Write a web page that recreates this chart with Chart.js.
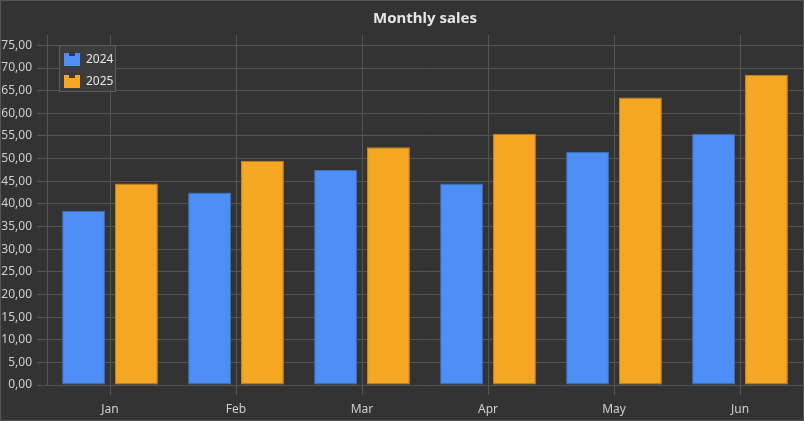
<!DOCTYPE html>
<html>
<head>
<meta charset="utf-8">
<script src="https://cdn.jsdelivr.net/npm/chart.js@4/dist/chart.umd.min.js"></script>
<style>
  body { margin: 0; background: #333333; }
  #wrap { width: 804px; height: 421px; box-sizing: border-box; border: 1px solid #565656; background: #333333; }
  canvas { display: block; }
</style>
</head>
<body>
<div id="wrap"><canvas id="salesChart" width="802" height="419"></canvas></div>
<script>
var months = ["Jan", "Feb", "Mar", "Apr", "May", "Jun"];
var sales2024 = [38.5, 42.5, 47.5, 44.5, 51.5, 55.5];
var sales2025 = [44.5, 49.5, 52.5, 55.5, 63.5, 68.5];
var seriesLabels = ["2024", "2025"];
var chartTitle = "Monthly sales";

var gridColor = "#555555";
var textColor = "#cfcfcf";
var fontFamily = "'Noto Sans', 'Open Sans', sans-serif";

// title centred over the plot area + legend box inside the plot, top-left
var overlays = {
  id: "overlays",
  afterDraw: function (chart) {
    var c = chart.ctx;
    var area = chart.chartArea;
    c.save();
    c.font = "bold 15px " + fontFamily;
    c.fillStyle = "#e6e6e6";
    c.textAlign = "center";
    c.textBaseline = "middle";
    c.fillText(chartTitle, (area.left + area.right) / 2, 17.5);

    var x = area.left + 12, y = area.top + 10;
    var w = 57, h = 47;
    c.fillStyle = "#3c3c3c";
    c.fillRect(x, y, w, h);
    c.strokeStyle = "#5c5c5c";
    c.lineWidth = 1;
    c.strokeRect(x + 0.5, y + 0.5, w - 1, h - 1);
    c.font = "12px " + fontFamily;
    c.textAlign = "left";
    chart.data.datasets.forEach(function (ds, i) {
      var iy = y + 8 + i * 22;
      c.fillStyle = ds.backgroundColor;
      c.fillRect(x + 5, iy, 16, 13);
      c.fillStyle = "#3c3c3c";
      c.fillRect(x + 10, iy, 6, 3);
      c.fillStyle = "#e6e6e6";
      c.fillText(ds.label, x + 27, iy + 6.5);
    });
    c.restore();
  }
};

var ctx = document.getElementById("salesChart").getContext("2d");

var myChart = new Chart(ctx, {
  type: "bar",
  data: {
    labels: months,
    datasets: [
      {
        label: seriesLabels[0],
        data: sales2024,
        backgroundColor: "#4d8ef7",
        borderColor: "#3b6fc2",
        borderWidth: 1,
        borderSkipped: false,
      },
      {
        label: seriesLabels[1],
        data: sales2025,
        backgroundColor: "#f5a623",
        borderColor: "#c4861f",
        borderWidth: 1,
        borderSkipped: false,
      },
    ],
  },
  options: {
    responsive: false,
    animation: false,
    categoryPercentage: 0.84,
    barPercentage: 0.81,
    layout: { padding: { left: 0, right: 0, top: 34, bottom: 0 } },
    scales: {
      x: {
        offset: true,
        grid: {
          offset: false,
          color: gridColor,
          tickLength: 10,
        },
        border: { color: gridColor },
        ticks: {
          color: textColor,
          font: { family: fontFamily, size: 12 },
          padding: 7,
          maxRotation: 0,
        },
        afterFit: function (scale) { scale.height = 35; },
      },
      y: {
        min: 0,
        max: 77.3,
        ticks: {
          color: textColor,
          font: { family: fontFamily, size: 12 },
          padding: 5,
          callback: function (v) { return v.toFixed(2).replace(".", ","); },
        },
        afterBuildTicks: function (axis) {
          var t = [];
          for (var v = 0; v <= 75; v += 5) t.push({ value: v });
          axis.ticks = t;
        },
        grid: { color: gridColor, tickLength: 10 },
        border: { color: gridColor },
        afterFit: function (scale) { scale.width = 46; },
      },
    },
    plugins: {
      legend: { display: false },
      tooltip: { enabled: false },
      title: { display: false },
    },
  },
  plugins: [overlays],
});
</script>
</body>
</html>
